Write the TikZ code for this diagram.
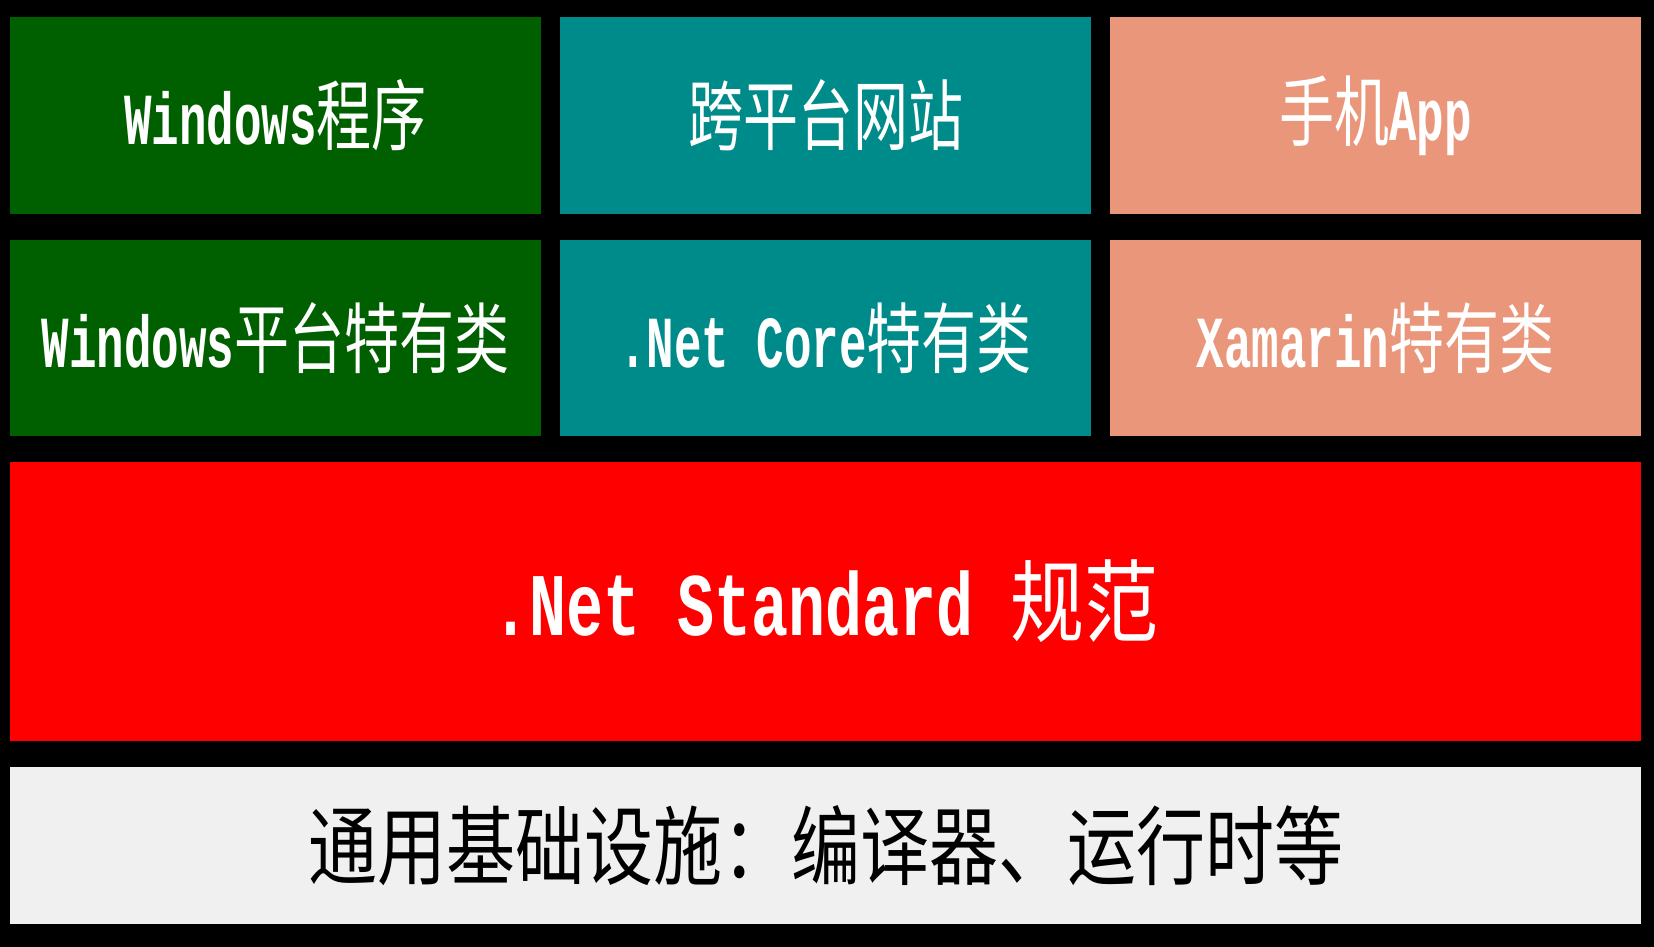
\documentclass[tikz,border=0pt]{standalone}
\usepackage{fontspec}
\usepackage{graphicx}
\newfontfamily\cjk{Noto Sans CJK SC}
\newfontfamily\lat{Liberation Mono}[Scale=0.8333]
\definecolor{wgreen}{HTML}{006000}
\definecolor{wteal}{HTML}{008B8B}
\definecolor{wsalmon}{HTML}{E9967A}
\definecolor{wred}{HTML}{FF0000}
\definecolor{wgrey}{HTML}{F0F0F0}
% Latin part: bold mono, stretched; CJK part: regular, stretched
\newcommand\latp[2]{\scalebox{1}[#1]{\lat\bfseries #2}}
\newcommand\cjkp[2]{\scalebox{1}[#1]{\cjk #2}}
\begin{document}
\begin{tikzpicture}[x=1pt,y=-1pt,
  box/.style={inner sep=0pt, outer sep=0pt, anchor=center, text=white},
  small/.style={box, minimum width=531, font=\fontsize{55}{60}\selectfont}]
\fill[black] (0,0) rectangle (1654,947);
\useasboundingbox (0,0) rectangle (1654,947);
% row 1
\node[small, fill=wgreen, minimum height=197] (a1) at (275.5,115.5) {\latp{1.6}{Windows}\cjkp{1.4}{程序}};
\node[small, fill=wteal, minimum height=197] (a2) at (825.5,115.5) {\cjkp{1.4}{跨平台网站}};
\node[small, fill=wsalmon, minimum height=197] (a3) at (1375.5,115.5) {\cjkp{1.4}{手机}\latp{1.6}{App}};
% row 2
\node[small, fill=wgreen, minimum height=196] (b1) at (275.5,338) {\latp{1.6}{Windows}\cjkp{1.4}{平台特有类}};
\node[small, fill=wteal, minimum height=196] (b2) at (825.5,338) {\latp{1.6}{.Net Core}\cjkp{1.4}{特有类}};
\node[small, fill=wsalmon, minimum height=196] (b3) at (1375.5,338) {\latp{1.6}{Xamarin}\cjkp{1.4}{特有类}};
% standard
\node[box, fill=wred, minimum width=1631, minimum height=279, font=\fontsize{74}{80}\selectfont] (c) at (825.5,601.5) {\latp{1.45}{.Net Standard\ }\cjkp{1.22}{规范}};
% base
\node[box, fill=wgrey, text=black, minimum width=1631, minimum height=157, font=\fontsize{69}{75}\selectfont] (d) at (825.5,845.5) {\cjkp{1.25}{通用基础设施：编译器、运行时等}};
\end{tikzpicture}
\end{document}
